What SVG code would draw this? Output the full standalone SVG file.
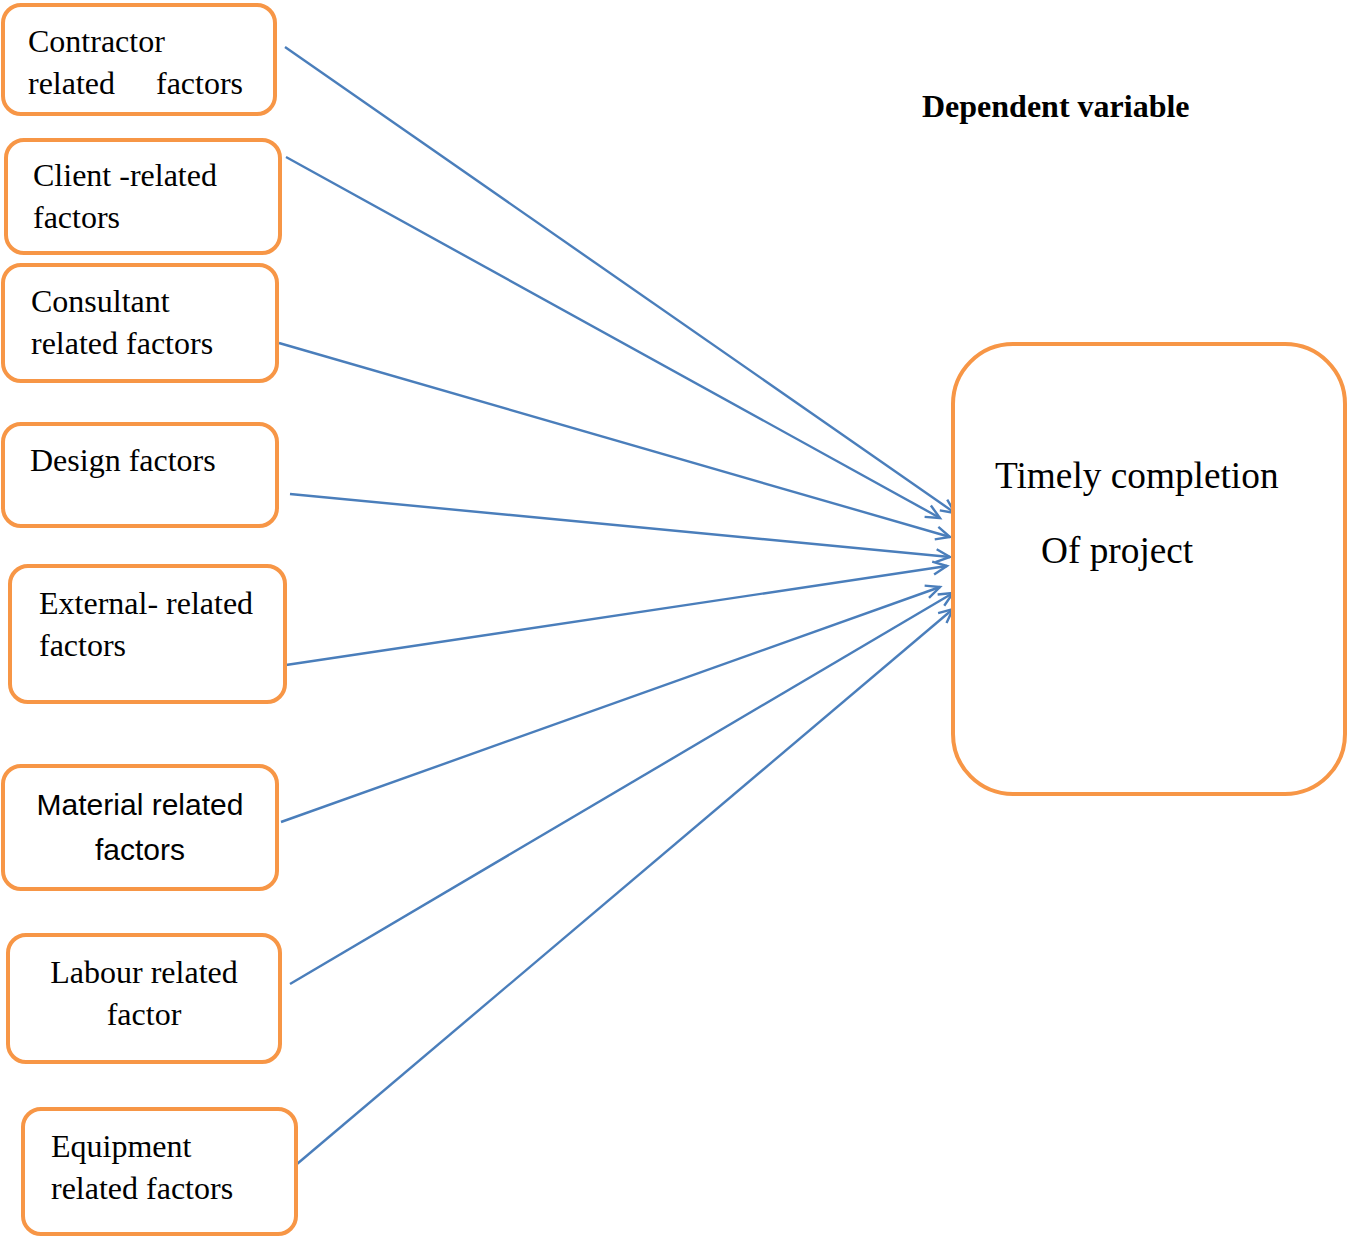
<svg xmlns="http://www.w3.org/2000/svg" width="1348" height="1236" viewBox="0 0 1348 1236">
<style>
.box{fill:#fff;stroke:#F79646;stroke-width:4}
.t{font-family:"Liberation Serif","Times New Roman",serif;font-size:32px;fill:#000}
.s{font-family:"Liberation Sans",Arial,sans-serif;font-size:30px;fill:#000;text-anchor:middle}
.big{font-family:"Liberation Serif","Times New Roman",serif;font-size:37.3px;fill:#000}
.hd{font-family:"Liberation Serif","Times New Roman",serif;font-size:32px;font-weight:bold;fill:#000}
.c{stroke:#4A7EBB;stroke-width:2.4;fill:none;marker-end:url(#a)}
</style>
<defs>
<marker id="a" markerWidth="18" markerHeight="18" refX="15" refY="7.5" orient="auto" markerUnits="userSpaceOnUse" viewBox="0 0 18 15">
<polyline points="1,1 15,7.5 1,14" fill="none" stroke="#4A7EBB" stroke-width="2.4"/>
</marker>
</defs>
<rect width="1348" height="1236" fill="#fff"/>
<text class="hd" x="922" y="117">Dependent variable</text>
<g id="connectors">
<line class="c" x1="285" y1="47" x2="955" y2="513"/>
<line class="c" x1="286" y1="157" x2="940" y2="518"/>
<line class="c" x1="279" y1="343" x2="950" y2="537"/>
<line class="c" x1="290" y1="494" x2="950" y2="557"/>
<line class="c" x1="286" y1="665" x2="947" y2="566"/>
<line class="c" x1="281" y1="822" x2="940" y2="587"/>
<line class="c" x1="290" y1="984" x2="953" y2="593"/>
<line class="c" x1="297" y1="1164" x2="953" y2="609"/>
</g>
<g id="contractor"><rect class="box" x="3" y="5" width="272" height="109" rx="18"/>
<text class="t" x="28" y="52">Contractor</text><text class="t" x="28" y="94">related</text><text class="t" x="156" y="94">factors</text></g>
<g id="client"><rect class="box" x="6" y="140" width="274" height="113" rx="18"/>
<text class="t" x="33" y="186">Client -related</text><text class="t" x="33" y="228">factors</text></g>
<g id="consultant"><rect class="box" x="3" y="265" width="274" height="116" rx="18"/>
<text class="t" x="31" y="312">Consultant</text><text class="t" x="31" y="354">related factors</text></g>
<g id="design"><rect class="box" x="3" y="424" width="274" height="102" rx="18"/>
<text class="t" x="30" y="471">Design factors</text></g>
<g id="external"><rect class="box" x="10" y="566" width="275" height="136" rx="18"/>
<text class="t" x="39" y="614">External- related</text><text class="t" x="39" y="656">factors</text></g>
<g id="material"><rect class="box" x="3" y="766" width="274" height="123" rx="18"/>
<text class="s" x="140" y="815">Material related</text><text class="s" x="140" y="860">factors</text></g>
<g id="labour"><rect class="box" x="8" y="935" width="272" height="127" rx="18"/>
<text class="t" x="144" y="983" text-anchor="middle">Labour related</text><text class="t" x="144" y="1025" text-anchor="middle">factor</text></g>
<g id="equipment"><rect class="box" x="23" y="1109" width="273" height="125" rx="18"/>
<text class="t" x="51" y="1157">Equipment</text><text class="t" x="51" y="1199">related factors</text></g>
<g id="timely"><rect class="box" x="953" y="344" width="392" height="450" rx="60"/>
<text class="big" x="995" y="488">Timely completion</text><text class="big" x="1041" y="563">Of project</text></g>
</svg>
